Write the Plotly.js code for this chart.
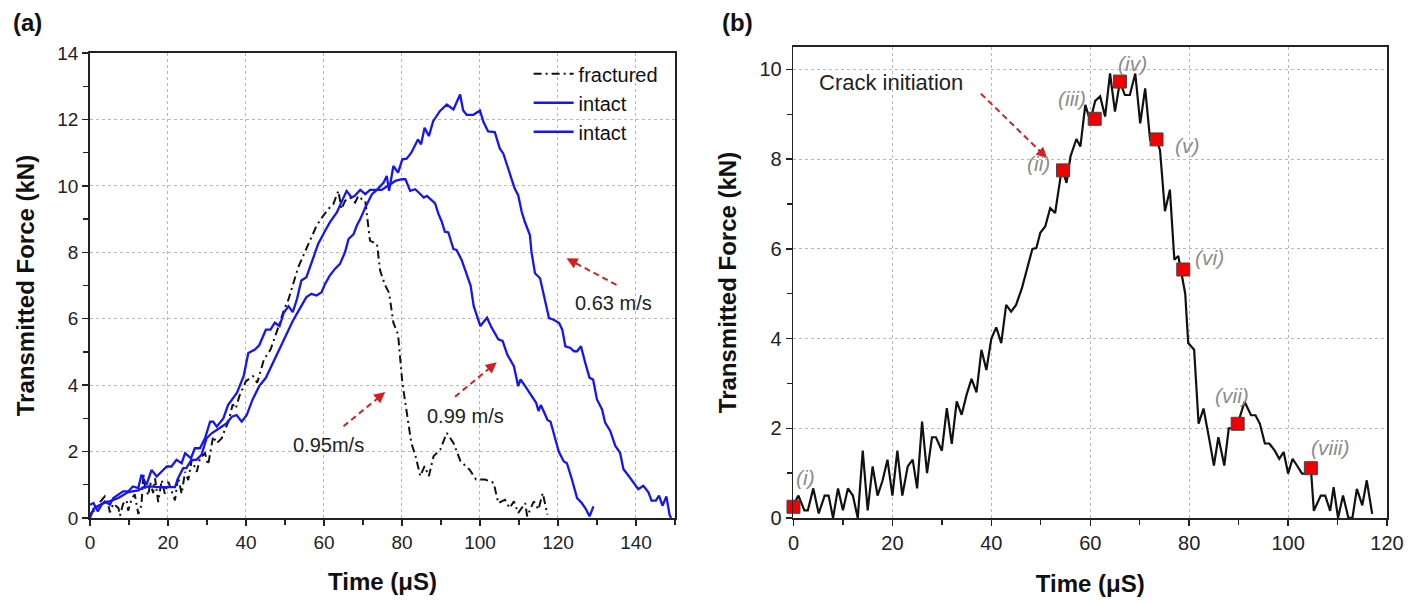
<!DOCTYPE html>
<html>
<head>
<meta charset="utf-8">
<script src="https://cdn.plot.ly/plotly-3.0.1.min.js"></script>
<style>html,body{margin:0;padding:0;background:#fff;}#chart{width:1421px;height:603px;}</style>
</head>
<body>
<div id="chart"></div>
<script>
// ---------- Panel (a) data ----------
const fracturedX = [0,0.4,1.7,2.6,3.8,4.7,5.1,6,7.3,7.7,8.5,9.4,9.8,10.7,11.5,12.4,13.2,13.7,14.1,15,15.4,16.2,16.7,17.5,18.4,19.2,20.1,20.9,21.8,22.6,23.5,24.4,25.2,26.1,27.4,28.2,29.5,30.3,31.6,32.5,33.8,34.6,35.5,36.6,37.4,38.3,39.2,40,41.8,42.9,44.6,46.3,48.1,49.8,50.9,52.1,53.4,54.7,56.4,58.1,59.8,61.1,62.4,63.7,64.5,65.4,66.7,68,68.8,69.7,70.6,71,71.8,73.6,74.4,75.7,76.7,77.8,79,80.1,81.2,82.4,83.5,84.7,85.8,86.9,88.1,89.8,91.5,93.2,95,97.3,99,101.3,103.5,104.7,106.4,107.6,108.7,109.8,111.6,112.1,113.8,115,116.1,117.3];
const fracturedY = [0.05,0.17,0.27,0.48,0.65,0.4,0.17,0.43,0.3,0.07,0.43,0.53,0.22,0.58,0.71,0.12,0.38,1.34,0.93,0.68,1.09,0.75,1.19,0.48,1.14,0.73,1.09,0.83,0.53,1.24,0.73,1.39,1.14,1.75,1.39,1.8,1.95,1.6,2.46,2.25,2.4,2.66,2.9,3.42,3.3,3.67,3.9,4.12,4.27,4.07,4.77,5.07,5.68,6.28,6.58,7.05,7.55,7.9,8.35,8.8,9.1,9.3,9.45,9.85,9.3,9.55,9.65,9.5,9.7,9.6,9.55,9.2,8.35,8.25,7.45,7.0,6.78,5.88,5.53,4.07,3.17,2.26,1.86,1.26,1.56,1.26,1.86,2.06,2.56,2.26,1.71,1.46,1.16,1.16,1.06,0.45,0.55,0.3,0.5,0.15,0.45,0.05,0.5,0.25,0.75,0.1];

const intactFastX = [0,0.9,2,3,3.8,5.1,6,7.3,8.5,9.8,11,12.4,13.2,14.5,15.8,17.1,18.4,19.7,20.9,22.2,23.5,24.4,25.9,26.9,28.2,29.5,30.8,31.6,32.5,34.2,35.4,37.7,39.4,40.6,42.3,43.4,45.1,46.3,47.4,48.6,49.7,50.9,52,53.1,54.2,55.5,57.3,58.5,60.3,61.5,63.3,64.5,65.8,67.1,67.9,69.3,70.6,71.8,73.6,74.8,77,78.3,80,80.9,82.1,83.4,84.3,85.6,86.4,87.7,88.5,89.3,90.2,91,91.9,93.2,94,95.3,96.6,97.6,98.4,100.1,101.8,103,104.7,105.8,107,108.7,109.8,110.4,111.6,113.3,114.4,115,115.6,116.4,117.3,118.1,119.4,120.2,121.5,122.3,123.6,124.9,126.1,127,128.1,129.1];
const intactFastY = [0.4,0.45,0.2,0.4,0.5,0.4,0.6,0.7,0.8,0.8,0.95,0.9,1.3,1.0,1.45,1.25,1.4,1.55,1.55,1.75,1.65,1.95,1.8,2.1,2.1,2.4,2.9,2.9,2.75,3.0,3.4,3.77,4.27,4.97,5.07,5.2,5.67,5.67,5.88,5.78,6.18,6.38,6.2,6.6,7.15,7.25,7.85,8.25,8.65,8.9,9.2,9.5,9.85,9.65,9.7,9.88,9.75,9.88,9.88,9.88,10.05,10.15,10.2,10.2,9.85,9.9,9.8,9.65,9.7,9.55,9.47,9.17,8.92,8.62,8.6,8.1,8.07,7.77,7.32,7.0,6.38,5.78,6.03,5.73,5.38,5.33,4.92,4.57,3.97,4.17,3.97,3.67,3.47,3.22,3.4,3.2,2.95,2.9,2.35,2.0,1.7,1.65,1.15,0.6,0.45,0.3,0.05,0.35];

const intactSlowX = [0,0.9,2.1,3.5,5,7.3,9.8,12.4,13.7,15.8,17.1,19.2,20.9,21.8,22.6,23.9,24.7,26,27.3,28.6,29.9,31.2,32.5,33.8,35,36.4,37.6,38.9,40.2,41.7,43.4,45.1,46.9,48.6,50.3,52,53.7,54.7,55.5,56.8,58.1,59.4,60.3,61.5,62.8,64.1,65.4,66.3,67.6,68.4,69.3,70.6,71.4,72.3,73.6,75.3,76.1,76.7,77.8,79,80.1,81.2,82.4,84.1,84.9,85.8,86.9,88,89.7,91.5,93.2,94.9,95.7,96.6,98.3,100,100.9,102.1,103.8,105.1,106,107.7,108.9,109.8,110.7,111.5,112.8,113.2,114.1,115.4,116.4,117.7,118.9,120.3,121.1,121.9,123.2,124.1,124.9,125.9,127,128.1,129,130,131.3,132.1,133.4,134.7,135.9,136.8,138.1,139.3,140.6,141.9,143.2,144,145.1,145.9,146.8,147.8,148.6,149];
const intactSlowY = [0.0,0.27,0.37,0.45,0.5,0.6,0.78,0.83,0.93,0.95,0.93,0.93,0.95,0.93,1.2,1.5,1.5,1.75,1.75,1.9,2.4,2.55,2.65,2.75,2.85,3.05,3.1,2.9,3.1,3.57,3.97,4.22,4.67,5.13,5.53,5.93,6.28,6.5,6.65,6.75,6.7,6.8,7.05,7.3,7.5,7.65,8.0,8.4,8.55,8.8,9.0,9.35,9.55,9.75,9.88,10.1,10.3,9.85,10.6,10.4,10.8,10.82,11.0,11.4,11.25,11.75,11.5,11.95,12.25,12.45,12.3,12.75,12.27,12.14,12.14,12.27,11.92,11.64,11.62,11.12,10.97,10.37,9.92,9.72,9.22,8.92,8.52,8.02,7.37,7.22,6.67,6.02,5.97,5.87,5.67,5.17,5.12,5.02,5.02,5.17,4.67,4.22,4.17,3.57,3.27,2.87,2.62,2.17,1.97,1.47,1.27,1.07,0.87,0.97,0.77,0.52,0.52,0.67,0.37,0.65,0.1,0];

const seriesNamesA = ["fractured", "intact", "intact"];
const speedLabels = ["0.95m/s", "0.99 m/s", "0.63 m/s"];
const speedLabelX = [61.2, 96.4, 134.3];
const speedLabelY = [2.21, 3.07, 6.46];
const speedArrowFromX = [65, 93.6, 135];
const speedArrowFromY = [2.76, 3.65, 7.02];
const speedArrowToX = [75.7, 104.3, 122.2];
const speedArrowToY = [3.79, 4.69, 7.82];

// ---------- Panel (b) data ----------
const forceBX = [0,1,2.2,2.9,4,5.1,6.3,7.1,8,9,10,11,12,13,14,15,16,17,18,19,20,21,22,23.1,24.1,25,26,27,28,28.8,30,31,32,33,34,35,36,37,38,39,40,41,42,43,44,45,46.2,47.2,48.3,49.1,49.9,50.9,51.9,52.9,54,54.6,55.2,56,56.6,57.2,58,59,60,61,62,63,64,65,66,67,68,69.1,70.1,71.1,72.1,73.4,74.1,75.1,76.1,77,77.8,78.7,79.2,79.8,81,81.9,82.9,84.1,85,85.9,87.1,88,88.9,89.8,91.2,92.5,93.4,94.3,95.3,96.2,97.3,98.2,99.1,100,100.9,101.8,102.8,103.7,104.6,105.2,106.6,107.5,108.5,109.2,110.1,111.1,112.2,113,113.9,115,115.9,117];
const forceBY = [0.3,0.5,0.17,0.17,0.66,0.1,0.5,0.5,0,0.66,0.17,0.66,0.5,0,1.5,0.17,1.15,0.5,0.83,1.3,0.5,1.5,0.5,1.15,1.3,0.66,2.15,1.0,1.8,1.8,1.5,2.45,1.65,2.6,2.3,2.75,3.1,2.8,3.75,3.3,4.0,4.25,3.9,4.75,4.6,4.75,5.13,5.54,6.0,6.02,6.36,6.5,6.91,6.8,7.61,7.69,7.47,8.06,8.24,8.45,8.28,9.21,8.85,9.3,9.4,8.95,9.91,9.06,9.73,9.43,9.43,9.91,8.8,9.58,8.43,8.44,8.2,6.84,7.32,5.76,5.84,5.3,5.0,3.9,3.75,2.1,2.44,1.73,1.17,1.8,1.17,2.0,2.0,2.1,2.59,2.29,2.29,2.1,1.66,1.66,1.5,1.32,1.47,0.99,1.32,1.17,0.99,0.99,1.11,0.16,0.5,0.5,0.16,0.69,0,0.5,0,0,0.65,0.28,0.84,0.09];

const stageX = [0, 54.5, 60.9, 66, 73.4, 78.8, 89.8, 104.6];
const stageY = [0.25, 7.75, 8.9, 9.73, 8.44, 5.54, 2.1, 1.11];
const stageLabels = ["(i)", "(ii)", "(iii)", "(iv)", "(v)", "(vi)", "(vii)", "(viii)"];
const stageLabelX = [2.5, 49.6, 56.3, 68.6, 79.7, 84.2, 88.7, 108.5];
const stageLabelY = [0.91, 7.9, 9.36, 10.13, 8.3, 5.8, 2.74, 1.58];
const crackText = "Crack initiation";
const crackTextPos = [19.7, 9.7];
const crackArrowFrom = [37.9, 9.46];
const crackArrowTo = [51.3, 8.02];

// ---------- Styles ----------
const BLUE = "#1515f5";
const RED = "#d42020";
const FONT = "Liberation Sans, Arial, sans-serif";

const traces = [
  {x: fracturedX, y: fracturedY, name: seriesNamesA[0], type: "scatter", mode: "lines",
   line: {color: "#111", width: 2, dash: "8px,4px,2px,4px"}, xaxis: "x", yaxis: "y"},
  {x: intactFastX, y: intactFastY, name: seriesNamesA[1], type: "scatter", mode: "lines",
   line: {color: BLUE, width: 2.3}, xaxis: "x", yaxis: "y"},
  {x: intactSlowX, y: intactSlowY, name: seriesNamesA[2], type: "scatter", mode: "lines",
   line: {color: BLUE, width: 2.3}, xaxis: "x", yaxis: "y"},
  {x: forceBX, y: forceBY, type: "scatter", mode: "lines", showlegend: false,
   line: {color: "#111", width: 2.2}, xaxis: "x2", yaxis: "y2"},
  {x: stageX, y: stageY, type: "scatter", mode: "markers", showlegend: false, cliponaxis: false,
   marker: {symbol: "square", size: 13, color: "#f00000", line: {color: "#444", width: 1}},
   xaxis: "x2", yaxis: "y2"}
];

function axisBase(extra) {
  return Object.assign({
    showline: true, linecolor: "#222", linewidth: 1.8, mirror: true,
    ticks: "outside", ticklen: 6, tickwidth: 1.5, tickcolor: "#222",
    showgrid: true, gridcolor: "#b8b8b8", gridwidth: 1, griddash: "3px,3px",
    zeroline: false, automargin: false,
    tickfont: {family: FONT, size: 19, color: "#222"}
  }, extra);
}
const titleFont = {family: FONT, size: 24, color: "#111", weight: "bold"};

const annotations = [];
const shapes = [];
// panel labels
annotations.push({xref: "paper", yref: "paper", x: 0.0197, y: 0.962, xanchor: "center", yanchor: "middle",
  text: "<b>(a)</b>", showarrow: false, font: {family: FONT, size: 24, color: "#111"}});
annotations.push({xref: "paper", yref: "paper", x: 0.5187, y: 0.962, xanchor: "center", yanchor: "middle",
  text: "<b>(b)</b>", showarrow: false, font: {family: FONT, size: 24, color: "#111"}});

function addArrow(xr, yr, fx, fy, tx, ty) {
  const ex = fx + (tx - fx) * 0.9, ey = fy + (ty - fy) * 0.9;
  shapes.push({type: "line", xref: xr, yref: yr, x0: fx, y0: fy, x1: ex, y1: ey,
    line: {color: RED, width: 2, dash: "6px,4px"}});
  annotations.push({xref: xr, yref: yr, axref: xr, ayref: yr, x: tx, y: ty,
    ax: fx + (tx - fx) * 0.85, ay: fy + (ty - fy) * 0.85, text: "", showarrow: true,
    arrowhead: 2, arrowsize: 1.1, arrowwidth: 2, arrowcolor: RED, standoff: 0});
}
for (let i = 0; i < speedLabels.length; i++) {
  annotations.push({xref: "x", yref: "y", x: speedLabelX[i], y: speedLabelY[i], text: speedLabels[i],
    showarrow: false, font: {family: FONT, size: 20, color: "#222"}});
  addArrow("x", "y", speedArrowFromX[i], speedArrowFromY[i], speedArrowToX[i], speedArrowToY[i]);
}
annotations.push({xref: "x2", yref: "y2", x: crackTextPos[0], y: crackTextPos[1], text: crackText,
  showarrow: false, font: {family: FONT, size: 22, color: "#222"}});
addArrow("x2", "y2", crackArrowFrom[0], crackArrowFrom[1], crackArrowTo[0], crackArrowTo[1]);
for (let i = 0; i < stageLabels.length; i++) {
  annotations.push({xref: "x2", yref: "y2", x: stageLabelX[i], y: stageLabelY[i],
    text: "<i>" + stageLabels[i] + "</i>", showarrow: false,
    font: {family: FONT, size: 21, color: "#8c8c8c"}});
}

const layout = {
  width: 1421, height: 603,
  margin: {l: 0, r: 0, t: 0, b: 0},
  paper_bgcolor: "#fff", plot_bgcolor: "#fff",
  showlegend: true,
  legend: {x: 0.372, y: 0.91, xanchor: "left", yanchor: "top", bgcolor: "rgba(0,0,0,0)",
    font: {family: FONT, size: 20, color: "#111"}, tracegroupgap: 0, itemwidth: 40},
  xaxis: axisBase({domain: [0.0633, 0.4750], range: [0, 150], dtick: 20, tick0: 0, anchor: "y",
    minor: {dtick: 10, ticks: "outside", ticklen: 5, tickwidth: 1.3, tickcolor: "#222", showgrid: false},
    title: {text: "<b>Time (\u03bcS)</b>", font: titleFont, standoff: 22}}),
  yaxis: axisBase({domain: [0.141, 0.912], range: [0, 14], dtick: 2, tick0: 0, anchor: "x",
    minor: {dtick: 1, ticks: "outside", ticklen: 5, tickwidth: 1.3, tickcolor: "#222", showgrid: false},
    title: {text: "<b>Transmitted Force (kN)</b>", font: titleFont, standoff: 16}}),
  xaxis2: axisBase({domain: [0.5584, 0.9761], range: [0, 120], dtick: 20, tick0: 0, anchor: "y2",
    tickfont: {family: FONT, size: 20, color: "#222"},
    minor: {dtick: 10, ticks: "outside", ticklen: 5, tickwidth: 1.3, tickcolor: "#222", showgrid: false},
    title: {text: "<b>Time (\u03bcS)</b>", font: titleFont, standoff: 22}}),
  yaxis2: axisBase({domain: [0.141, 0.922], range: [0, 10.5], dtick: 2, tick0: 0, anchor: "x2",
    tickfont: {family: FONT, size: 20, color: "#222"},
    minor: {dtick: 1, ticks: "outside", ticklen: 5, tickwidth: 1.3, tickcolor: "#222", showgrid: false},
    title: {text: "<b>Transmitted Force (kN)</b>", font: titleFont, standoff: 16}}),
  annotations: annotations,
  shapes: shapes
};

Plotly.newPlot("chart", traces, layout, {displayModeBar: false, staticPlot: true});
</script>
</body>
</html>
